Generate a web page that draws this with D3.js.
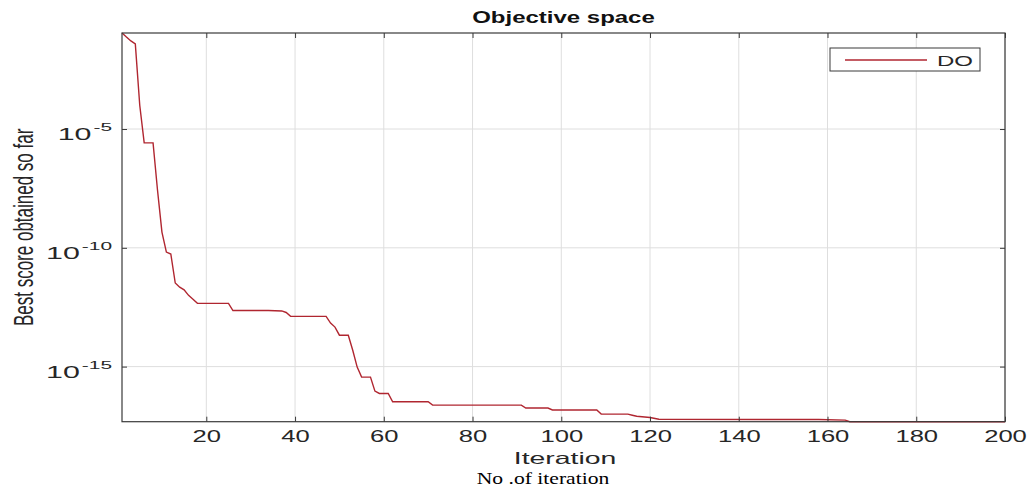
<!DOCTYPE html>
<html>
<head>
<meta charset="utf-8">
<script src="https://cdn.jsdelivr.net/npm/d3@7"></script>
<style>
  body { margin: 0; background: #fff; }
  text { fill: #262626; }
</style>
</head>
<body>
<svg id="chart" width="1032" height="501"></svg>
<script>
///// *** DATA *** /////
// corners of the convergence curve (iteration, best score)
var iters = [1, 2, 3, 4, 5, 6, 8, 9, 10, 11,
             12, 13, 14, 15, 16, 17, 18, 25, 26, 34,
             37, 38, 39, 47, 48, 49, 50, 52, 53, 54,
             55, 57, 58, 59, 61, 62, 70, 71, 91, 92,
             97, 98, 108, 109, 115, 116, 117, 120, 122, 158,
             164, 165, 200];
var scores = [1.1e-1, 7.4e-2, 5.1e-2, 3.8e-2, 1.0e-4, 2.6e-6, 2.6e-6, 2.7e-8, 4.6e-10, 6.6e-11,
              5.5e-11, 3.3e-12, 2.2e-12, 1.7e-12, 1.0e-12, 6.9e-13, 4.6e-13, 4.6e-13, 2.3e-13, 2.3e-13,
              2.2e-13, 1.9e-13, 1.3e-13, 1.3e-13, 6.8e-14, 4.6e-14, 2.1e-14, 2.1e-14, 4.9e-15, 9.5e-16,
              3.6e-16, 3.6e-16, 9.3e-17, 7.4e-17, 7.4e-17, 3.3e-17, 3.3e-17, 2.4e-17, 2.4e-17, 1.8e-17,
              1.8e-17, 1.5e-17, 1.5e-17, 1.0e-17, 1.0e-17, 9.0e-18, 8.1e-18, 7.2e-18, 6.1e-18, 5.9e-18,
              5.6e-18, 4.8e-18, 4.8e-18];
var xTicks = [20, 40, 60, 80, 100, 120, 140, 160, 180, 200];
var yTicks = [1e-15, 1e-10, 1e-5];
var yTickExp = ['-15', '-10', '-5'];
var seriesName = 'DO';

///// *** LAYOUT *** /////
var svg = d3.select('#chart'),
    plotLeft = 122,
    plotRight = 1005,
    plotTop = 33,
    plotBottom = 421.7,
    stretch = 1.6,           // the picture is wide-stretched, so text is too
    sans = '"Liberation Sans", Arial, sans-serif',
    lineColor = '#b02630',
    gridColor = '#dedede',
    boxColor = '#3a3a3a';

var points = iters.map(function(d, i) { return [d, scores[i]]; });

var x = d3.scaleLinear()
  .domain([1, 200])
  .range([plotLeft, plotRight]);

//tight log axis, like matlab's axis tight
var y = d3.scaleLog()
  .domain(d3.extent(scores))
  .range([plotBottom, plotTop]);

///// *** GRID *** /////
var grid = svg.append('g');
grid.selectAll('.gx').data(xTicks).enter().append('line')
  .attr('x1', function(d) { return x(d); })
  .attr('x2', function(d) { return x(d); })
  .attr('y1', plotTop)
  .attr('y2', plotBottom)
  .attr('stroke', gridColor);
grid.selectAll('.gy').data(yTicks).enter().append('line')
  .attr('x1', plotLeft)
  .attr('x2', plotRight)
  .attr('y1', function(d) { return y(d); })
  .attr('y2', function(d) { return y(d); })
  .attr('stroke', gridColor);

///// *** CURVE *** /////
var line = d3.line()
  .x(function(d) { return x(d[0]); })
  .y(function(d) { return y(d[1]); });

svg.append('path')
  .datum(points)
  .attr('d', line)
  .attr('fill', 'none')
  .attr('stroke', lineColor)
  .attr('stroke-width', 1.4);

///// *** AXES *** /////
// inward ticks on all four sides
var bottomAxis = svg.append('g')
  .attr('transform', 'translate(0,' + plotBottom + ')')
  .call(d3.axisBottom(x).tickValues(xTicks).tickSize(-5).tickPadding(9));
svg.append('g')
  .attr('transform', 'translate(0,' + plotTop + ')')
  .call(d3.axisTop(x).tickValues(xTicks).tickSize(-5).tickFormat(''));
svg.append('g')
  .attr('transform', 'translate(' + plotLeft + ',0)')
  .call(d3.axisLeft(y).tickValues(yTicks).tickSize(-5).tickFormat(''));
svg.append('g')
  .attr('transform', 'translate(' + plotRight + ',0)')
  .call(d3.axisRight(y).tickValues(yTicks).tickSize(-5).tickFormat(''));

svg.selectAll('.domain').remove();
svg.selectAll('.tick line').attr('stroke', boxColor);

bottomAxis.selectAll('text')
  .style('font-family', sans)
  .style('font-size', '16px')
  .attr('fill', '#262626')
  .attr('transform', 'scale(' + stretch + ',1)');

// y labels as 10 with a superscript exponent
var yLab = svg.append('g').selectAll('text').data(yTicks).enter().append('text')
  .attr('text-anchor', 'end')
  .style('font-family', sans)
  .style('font-size', '16px')
  .attr('transform', function(d) {
    return 'translate(112,' + (y(d) + 11) + ') scale(1.9,1)';
  });
yLab.append('tspan').text('10');
yLab.append('tspan')
  .style('font-size', '11px')
  .attr('dx', 1)
  .attr('dy', -9)
  .text(function(d, i) { return yTickExp[i]; });

svg.append('rect')
  .attr('x', plotLeft)
  .attr('y', plotTop)
  .attr('width', plotRight - plotLeft)
  .attr('height', plotBottom - plotTop)
  .attr('fill', 'none')
  .attr('stroke', boxColor)
  .attr('stroke-width', 1.2);

///// *** TEXTS *** /////
svg.append('text')
  .attr('text-anchor', 'middle')
  .style('font-family', sans)
  .style('font-size', '16px')
  .style('font-weight', 'bold')
  .style('fill', '#111')
  .attr('transform', 'translate(' + (plotLeft + plotRight) / 2 + ',23) scale(1.5,1)')
  .text('Objective space');

svg.append('text')
  .attr('text-anchor', 'middle')
  .style('font-family', sans)
  .style('font-size', '16.5px')
  .attr('transform', 'translate(565,464) scale(1.72,1)')
  .text('Iteration');

svg.append('text')
  .attr('text-anchor', 'middle')
  .style('font-family', sans)
  .style('font-size', '17px')
  .attr('transform', 'translate(33,' + (plotTop + plotBottom) / 2 + ') scale(1.6,1) rotate(-90)')
  .text('Best score obtained so far');

svg.append('text')
  .attr('text-anchor', 'middle')
  .style('font-family', '"Liberation Serif", "Times New Roman", serif')
  .style('font-size', '17px')
  .style('fill', '#000')
  .attr('transform', 'translate(543,484) scale(1.27,1)')
  .text('No .of iteration');

///// *** LEGEND *** /////
var legend = svg.append('g');
legend.append('rect')
  .attr('x', 830)
  .attr('y', 48)
  .attr('width', 150)
  .attr('height', 23)
  .attr('fill', '#fff')
  .attr('stroke', boxColor);
legend.append('line')
  .attr('x1', 845)
  .attr('x2', 927)
  .attr('y1', 60)
  .attr('y2', 60)
  .attr('stroke', lineColor)
  .attr('stroke-width', 1.3);
legend.append('text')
  .style('font-family', sans)
  .style('font-size', '15px')
  .attr('transform', 'translate(937,65.5) scale(' + stretch + ',1)')
  .text(seriesName);
</script>
</body>
</html>
